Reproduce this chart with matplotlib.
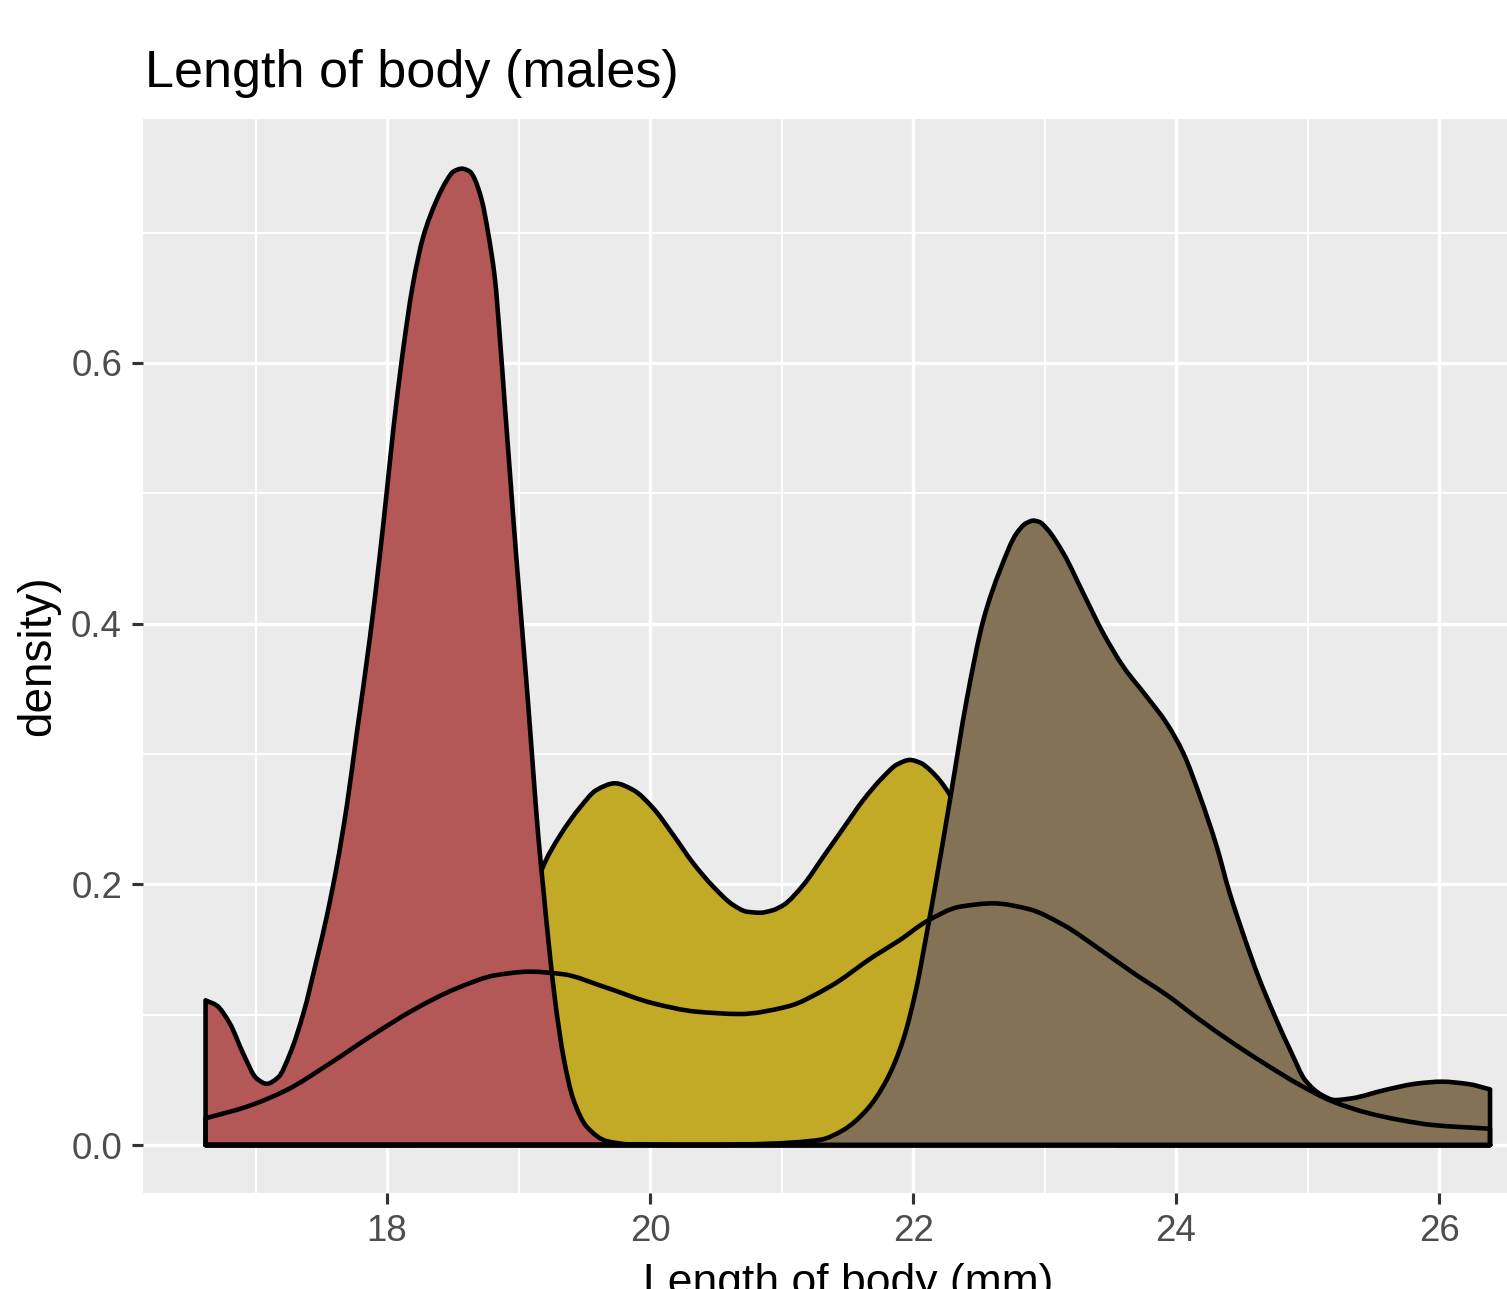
import matplotlib
matplotlib.use("Agg")
import matplotlib.pyplot as plt
from matplotlib.ticker import FixedLocator
from matplotlib.path import Path
from matplotlib.patches import PathPatch

plt.rcParams['font.family'] = ['Liberation Sans', 'DejaVu Sans']

# ---- data (x in mm, y = density) ----
red_x = [16.62, 16.705, 16.806, 16.907, 17.009, 17.085, 17.173, 17.262, 17.364, 17.465,
         17.541, 17.618, 17.694, 17.770, 17.871, 17.947, 18.000, 18.048, 18.099, 18.150,
         18.200, 18.276, 18.378, 18.454, 18.504, 18.568, 18.631, 18.657, 18.720, 18.770,
         18.821, 18.859, 18.897, 18.935, 18.973, 19.024, 19.075, 19.113, 19.151, 19.189,
         19.227, 19.278, 19.341, 19.417, 19.519, 19.671, 19.850, 20.200, 26.388]
red_y = [0.111, 0.107, 0.093, 0.070, 0.051, 0.047, 0.052, 0.070, 0.101, 0.142,
         0.175, 0.214, 0.260, 0.316, 0.390, 0.454, 0.503, 0.549, 0.592, 0.630,
         0.662, 0.697, 0.725, 0.740, 0.7467, 0.749, 0.7467, 0.743, 0.725, 0.699,
         0.664, 0.618, 0.566, 0.515, 0.464, 0.400, 0.336, 0.285, 0.236, 0.196,
         0.157, 0.111, 0.068, 0.035, 0.014, 0.003, 0.0005, 0.0, 0.0]

yellow_x = [16.62, 18.2, 18.4, 18.6, 18.8, 19.0, 19.176, 19.316, 19.468, 19.595,
            19.734, 19.873, 20.025, 20.177, 20.329, 20.481, 20.633, 20.737, 20.837, 20.930,
            21.015, 21.166, 21.318, 21.470, 21.622, 21.774, 21.880, 21.977, 22.060, 22.129,
            22.281, 22.4, 22.6, 22.8, 23.0, 23.2, 23.4, 23.6, 26.388]
yellow_y = [0.0, 0.0, 0.006, 0.025, 0.070, 0.140, 0.211, 0.2375, 0.259, 0.2725,
            0.2775, 0.2723, 0.2583, 0.2378, 0.2161, 0.1982, 0.1841, 0.179, 0.1782, 0.180,
            0.1841, 0.1995, 0.2212, 0.243, 0.2647, 0.2825, 0.292, 0.2954, 0.293, 0.2877,
            0.2685, 0.24, 0.16, 0.08, 0.03, 0.008, 0.001, 0.0, 0.0]

brown_x = [16.62, 20.5, 20.9, 21.293, 21.470, 21.648, 21.800, 21.926, 22.027, 22.100,
           22.155, 22.281, 22.408, 22.535, 22.662, 22.788, 22.860, 22.915, 22.960, 23.016,
           23.143, 23.295, 23.447, 23.599, 23.777, 23.929, 24.056, 24.183, 24.310, 24.400,
           24.500, 24.627, 24.753, 24.880, 24.981, 25.108, 25.209, 25.335, 25.589, 25.843,
           26.020, 26.221, 26.388]
brown_y = [0.0, 0.0, 0.001, 0.004, 0.0115, 0.027, 0.050, 0.081, 0.121, 0.160,
           0.1905, 0.2647, 0.3414, 0.4028, 0.4411, 0.4693, 0.477, 0.479, 0.478, 0.473,
           0.454, 0.4232, 0.3925, 0.367, 0.344, 0.3235, 0.3005, 0.2672, 0.2288, 0.196,
           0.165, 0.129, 0.0984, 0.0703, 0.0499, 0.0384, 0.0345, 0.0358, 0.0422, 0.0473,
           0.0486, 0.0468, 0.0427]

all_x = [16.62, 16.933, 17.237, 17.567, 17.871, 18.2, 18.53, 18.834, 19.087, 19.341,
         19.646, 20.025, 20.355, 20.684, 21.04, 21.367, 21.698, 21.901, 22.099, 22.357,
         22.611, 22.88, 23.14, 23.422, 23.675, 23.929, 24.183, 24.436, 24.69, 24.943,
         25.196, 25.45, 25.703, 25.957, 26.388]
all_y = [0.0205, 0.0294, 0.0422, 0.0627, 0.0831, 0.1036, 0.1202, 0.1304, 0.133, 0.1310,
         0.1215, 0.1087, 0.1023, 0.1005, 0.1061, 0.1215, 0.1445, 0.1573, 0.1713, 0.1828,
         0.1854, 0.181, 0.169, 0.150, 0.132, 0.1151, 0.0959, 0.078, 0.0614, 0.046,
         0.0332, 0.0248, 0.0192, 0.0153, 0.0125]

x_ticks = [18, 20, 22, 24, 26]
x_minor = [17, 19, 21, 23, 25, 27]
y_ticks = [0.0, 0.2, 0.4, 0.6]
y_minor = [0.1, 0.3, 0.5, 0.7]
title = "Length of body (males)"
xlabel = "Length of body (mm)"
ylabel = "density)"


def pchip_slopes(xs, ys):
    n = len(xs)
    h = [xs[i + 1] - xs[i] for i in range(n - 1)]
    d = [(ys[i + 1] - ys[i]) / h[i] for i in range(n - 1)]
    m = [0.0] * n
    m[0] = d[0]
    m[-1] = d[-1]
    for i in range(1, n - 1):
        if d[i - 1] * d[i] <= 0:
            m[i] = 0.0
        else:
            w1 = 2 * h[i] + h[i - 1]
            w2 = h[i] + 2 * h[i - 1]
            m[i] = (w1 + w2) / (w1 / d[i - 1] + w2 / d[i])
    return m


def density_path(xs, ys):
    """Closed area path: baseline -> smooth curve through the read points -> baseline."""
    m = pchip_slopes(xs, ys)
    verts = [(xs[0], 0.0), (xs[0], ys[0])]
    codes = [Path.MOVETO, Path.LINETO]
    for i in range(len(xs) - 1):
        dx = (xs[i + 1] - xs[i]) / 3.0
        verts += [(xs[i] + dx, ys[i] + m[i] * dx),
                  (xs[i + 1] - dx, ys[i + 1] - m[i + 1] * dx),
                  (xs[i + 1], ys[i + 1])]
        codes += [Path.CURVE4] * 3
    verts += [(xs[-1], 0.0), (xs[0], 0.0)]
    codes += [Path.LINETO, Path.CLOSEPOLY]
    return Path(verts, codes)


# ---- figure ----
W, H, DPI = 1507, 1289, 300
fig = plt.figure(figsize=(W / DPI, H / DPI), dpi=DPI)
fig.patch.set_facecolor("white")
left, right, top, bottom = 142.7, 1507, 119, 1193
ax = fig.add_axes([left / W, 1 - bottom / H, (right - left) / W, (bottom - top) / H])
ax.set_facecolor("#EBEBEB")
for s in ax.spines.values():
    s.set_visible(False)

lw = 1.1
for xs, ys, fc, z in [(yellow_x, yellow_y, "#C2A926", 2),
                      (red_x, red_y, "#B35757", 3),
                      (brown_x, brown_y, "#837256", 4),
                      (all_x, all_y, "none", 5)]:
    ax.add_patch(PathPatch(density_path(xs, ys), facecolor=fc, edgecolor="black",
                           linewidth=lw, joinstyle="round", zorder=z))

ax.set_xlim(16.142, 26.517)
ax.set_ylim(-0.0368, 0.7871)

ax.xaxis.set_major_locator(FixedLocator(x_ticks))
ax.xaxis.set_minor_locator(FixedLocator(x_minor))
ax.yaxis.set_major_locator(FixedLocator(y_ticks))
ax.yaxis.set_minor_locator(FixedLocator(y_minor))
ax.set_xticklabels([str(v) for v in x_ticks])
ax.set_yticklabels([f"{v:.1f}" for v in y_ticks])

ax.grid(which="major", color="white", linewidth=0.8)
ax.grid(which="minor", color="white", linewidth=0.45)
ax.set_axisbelow(True)

ax.tick_params(which="major", length=2.75, width=0.75, color="#333333",
               labelsize=8.8, labelcolor="#4D4D4D", pad=2.2)
ax.tick_params(which="minor", length=0)

fig.text(145 / W, 1 - 86.7 / H, title, fontsize=12.5, ha="left", va="baseline", color="black")
fig.text(38 / W, 1 - 655.5 / H, ylabel, fontsize=11, rotation=90, ha="center", va="center", color="black")
fig.text(848 / W, 1 - 1294.8 / H, xlabel, fontsize=10.7, ha="center", va="baseline", color="black")

fig.savefig("out.png", dpi=DPI)
